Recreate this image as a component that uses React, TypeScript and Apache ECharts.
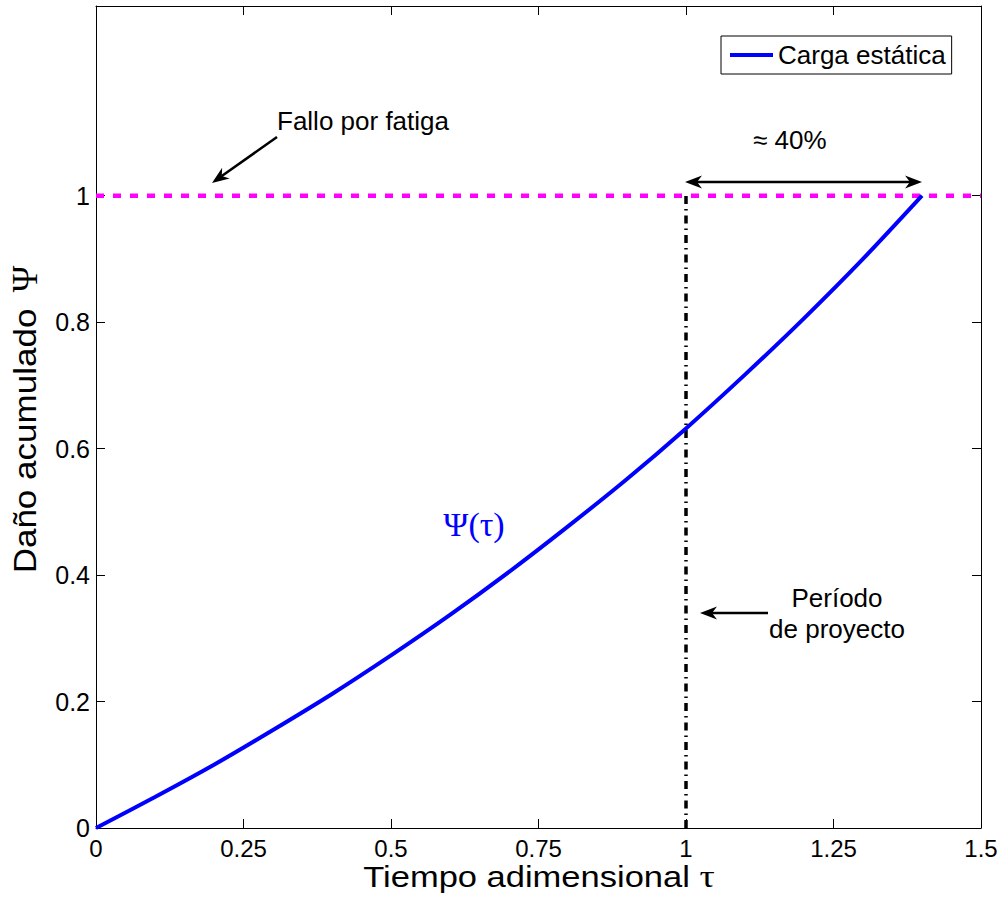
import React, { useEffect, useRef } from "react";
import * as echarts from "echarts";

// ---- data ----
const tauValues = [0, 0.1, 0.2, 0.3, 0.4, 0.5, 0.6, 0.7, 0.8, 0.9, 1.0, 1.1, 1.2, 1.3, 1.4];
const psiValues = [0, 0.049, 0.100, 0.155, 0.212, 0.273, 0.337, 0.405, 0.477, 0.552, 0.632, 0.717, 0.806, 0.900, 1.0];
const fatigueX = [0, 1.5];
const fatigueY = [1, 1];
const designX = [1, 1];
const designY = [0, 1];
const yTickValues = [0, 0.2, 0.4, 0.6, 0.8, 1];
const seriesName = "Carga estática";

const SANS = "Liberation Sans, Arial, Helvetica, sans-serif";
const SERIF = "Liberation Serif, Times New Roman, serif";

function arrow(fromX: number, fromY: number, tipX: number, tipY: number) {
  const len = 17, half = 6.5, notch = 5;
  const dx = tipX - fromX, dy = tipY - fromY;
  const L = Math.hypot(dx, dy);
  const ux = dx / L, uy = dy / L;
  const nx = -uy, ny = ux;
  const bx = tipX - ux * len, by = tipY - uy * len;
  const mx = tipX - ux * (len - notch), my = tipY - uy * (len - notch);
  return {
    poly: {
      type: "polygon",
      shape: { points: [[tipX, tipY], [bx + nx * half, by + ny * half], [mx, my], [bx - nx * half, by - ny * half]] },
      style: { fill: "#000" },
      z: 100,
    },
    end: [mx, my],
  };
}

function singleArrow(fromX: number, fromY: number, tipX: number, tipY: number) {
  const a = arrow(fromX, fromY, tipX, tipY);
  return [
    { type: "line", shape: { x1: fromX, y1: fromY, x2: a.end[0], y2: a.end[1] }, style: { stroke: "#000", lineWidth: 2.5 }, z: 100 },
    a.poly,
  ];
}

function doubleArrow(x1: number, y1: number, x2: number, y2: number) {
  const a = arrow(x1, y1, x2, y2);
  const b = arrow(x2, y2, x1, y1);
  return [
    { type: "line", shape: { x1: b.end[0], y1: b.end[1], x2: a.end[0], y2: a.end[1] }, style: { stroke: "#000", lineWidth: 2.5 }, z: 100 },
    a.poly,
    b.poly,
  ];
}

export default function App() {
  const ref = useRef<HTMLDivElement>(null);
  useEffect(() => {
    if (!ref.current) return;
    const chart = echarts.init(ref.current, null, { renderer: "svg" });
    const tickCommon = { show: true, inside: true, length: 9, lineStyle: { color: "#000", width: 1 } };
    const axisLineCommon = { show: true, onZero: false, lineStyle: { color: "#000", width: 1 } };
    const annFont = { fontFamily: SANS, fontSize: 26, fill: "#000" };

    chart.setOption({
      animation: false,
      backgroundColor: "#fff",
      textStyle: { fontFamily: SANS },
      grid: { left: 96, right: 24, top: 6, bottom: 71, containLabel: false },
      legend: {
        data: [seriesName],
        left: 721,
        top: 36,
        padding: [6, 6, 6, 9],
        borderColor: "#000",
        borderWidth: 1,
        backgroundColor: "#fff",
        icon: "rect",
        itemWidth: 43,
        itemHeight: 4,
        textStyle: { fontFamily: SANS, fontSize: 26, color: "#000" },
      },
      xAxis: [
        {
          type: "value", min: 0, max: 1.5, interval: 0.25, position: "bottom",
          axisLine: axisLineCommon, axisTick: tickCommon, splitLine: { show: false },
          axisLabel: { color: "#000", fontSize: 24, fontFamily: SANS, margin: 8 },
        },
        {
          type: "value", min: 0, max: 1.5, interval: 0.25, position: "top",
          axisLine: axisLineCommon, axisTick: tickCommon, splitLine: { show: false },
          axisLabel: { show: false },
        },
      ],
      yAxis: [
        {
          type: "value", min: 0, max: 1.3, position: "left",
          axisLine: axisLineCommon,
          axisTick: { ...tickCommon, customValues: yTickValues },
          splitLine: { show: false },
          axisLabel: { color: "#000", fontSize: 25, fontFamily: SANS, margin: 6, customValues: yTickValues },
        },
        {
          type: "value", min: 0, max: 1.3, position: "right",
          axisLine: axisLineCommon,
          axisTick: { ...tickCommon, customValues: yTickValues },
          splitLine: { show: false },
          axisLabel: { show: false },
        },
      ],
      series: [
        {
          name: "fatigue", type: "line", symbol: "none", silent: true,
          data: fatigueX.map((x, i) => [x, fatigueY[i]]),
          lineStyle: { color: "#ff00ff", width: 4.5, type: [8, 9] },
          z: 3,
        },
        {
          name: "design", type: "line", symbol: "none", silent: true,
          data: designX.map((x, i) => [x, designY[i]]),
          lineStyle: { color: "#000", width: 3.5, type: [8, 5, 1.5, 5] },
          z: 3,
        },
        {
          name: seriesName, type: "line", symbol: "none", smooth: 0.3,
          data: tauValues.map((t, i) => [t, psiValues[i]]),
          lineStyle: { color: "#0000ff", width: 4 },
          itemStyle: { color: "#0000ff" },
          z: 4,
        },
      ],
      graphic: [
        // axis titles
        {
          type: "text", x: 539, y: 877, scaleX: 1.19,
          style: {
            text: "{a|Tiempo adimensional }{b|τ}",
            textAlign: "center", textVerticalAlign: "middle",
            rich: {
              a: { fontFamily: SANS, fontSize: 29, fill: "#000" },
              b: { fontFamily: SERIF, fontSize: 32, fill: "#000" },
            },
          },
        },
        {
          type: "text", x: 25, y: 441, rotation: Math.PI / 2, scaleX: 1.13,
          style: { text: "Daño acumulado", fontFamily: SANS, fontSize: 31, fill: "#000", textAlign: "center", textVerticalAlign: "middle" },
        },
        {
          type: "text", x: 25, y: 279, rotation: Math.PI / 2,
          style: { text: "Ψ", fontFamily: SERIF, fontSize: 36, fill: "#000", textAlign: "center", textVerticalAlign: "middle" },
        },
        // annotations
        { type: "text", x: 277, y: 121, style: { ...annFont, text: "Fallo por fatiga", textAlign: "left", textVerticalAlign: "middle" } },
        ...singleArrow(277, 137, 212, 183),
        { type: "text", x: 753, y: 140, style: { ...annFont, text: "≈ 40%", textAlign: "left", textVerticalAlign: "middle" } },
        ...doubleArrow(685, 182, 922, 182),
        { type: "text", x: 837, y: 598, style: { ...annFont, text: "Período", textAlign: "center", textVerticalAlign: "middle" } },
        { type: "text", x: 837, y: 629, style: { ...annFont, text: "de proyecto", textAlign: "center", textVerticalAlign: "middle" } },
        ...singleArrow(768, 613, 700, 613),
        { type: "text", x: 474, y: 524, style: { text: "Ψ(τ)", fontFamily: SERIF, fontSize: 34, fill: "#0000ff", textAlign: "center", textVerticalAlign: "middle" } },
      ],
    });
    return () => chart.dispose();
  }, []);
  return <div ref={ref} style={{ position: "absolute", left: 0, top: 0, width: 1005, height: 899 }} />;
}
